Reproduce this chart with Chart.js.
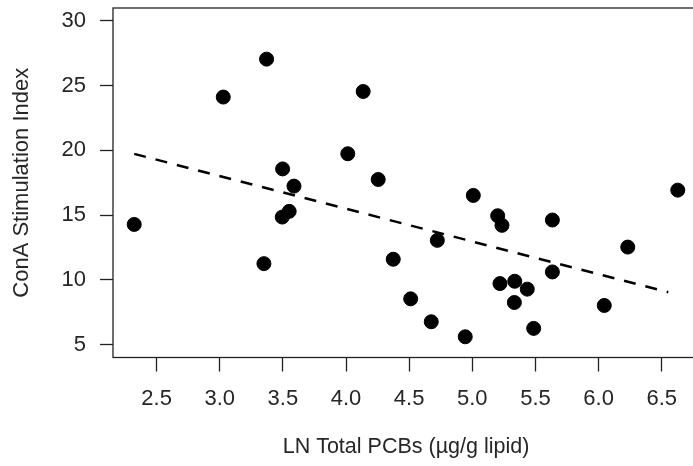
<!DOCTYPE html>
<html>
<head>
<meta charset="utf-8">
<script src="https://cdn.jsdelivr.net/npm/chart.js@4"></script>
<style>
  html, body { margin: 0; padding: 0; background: #fff; overflow: hidden; }
  #wrap { width: 712px; height: 466px; }
</style>
</head>
<body>
<div id="wrap"><canvas id="c" width="712" height="466"></canvas></div>
<script>
// Observations: LN total PCBs (x) vs ConA stimulation index (y)
const pcbLn = [2.323, 3.028, 3.371, 3.498, 3.588, 3.495, 3.550, 4.014, 4.136, 4.255,
               5.008, 5.201, 5.235, 5.634, 6.627, 4.723, 3.350, 4.374, 4.512, 4.675,
               4.944, 5.219, 5.336, 5.435, 5.333, 5.486, 5.634, 6.231, 6.045];
const conA  = [14.28, 24.12, 27.05, 18.57, 17.24, 14.85, 15.29, 19.74, 24.55, 17.75,
               16.52, 14.95, 14.21, 14.62, 16.93, 13.05, 11.25, 11.59, 8.53, 6.76,
               5.60, 9.71, 9.89, 9.28, 8.25, 6.25, 10.61, 12.53, 8.02];
// Fitted regression line endpoints (dashed)
const fitX = [2.323, 6.552];
const fitY = [19.73, 9.04];
// Tick labels
const xTicks = [2.5, 3.0, 3.5, 4.0, 4.5, 5.0, 5.5, 6.0, 6.5];
const yTicks = [5, 10, 15, 20, 25, 30];

const FONT = "'Liberation Sans', Arial, sans-serif";
const TXT = '#262626';
const AX = '#222';

const boxPlugin = {
  id: 'box',
  afterDraw(chart) {
    const a = chart.chartArea, ctx = chart.ctx;
    ctx.save();
    ctx.strokeStyle = AX;
    ctx.lineWidth = 1.3;
    ctx.strokeRect(a.left, a.top, a.right - a.left, a.bottom - a.top);
    ctx.restore();
  }
};

new Chart(document.getElementById('c'), {
  type: 'scatter',
  data: {
    datasets: [
      {
        type: 'line',
        data: fitX.map((x, i) => ({ x, y: fitY[i] })),
        borderColor: '#000',
        borderWidth: 2.5,
        borderDash: [12, 10],
        pointRadius: 0,
        fill: false,
        order: 0
      },
      {
        data: pcbLn.map((x, i) => ({ x, y: conA[i] })),
        backgroundColor: '#000',
        borderColor: '#000',
        borderWidth: 1,
        pointRadius: 7,
        order: 1
      }
    ]
  },
  options: {
    responsive: false,
    animation: false,
    layout: { padding: { left: 0, right: 13, top: 7, bottom: 0 } },
    plugins: { legend: { display: false }, tooltip: { enabled: false } },
    scales: {
      x: {
        type: 'linear',
        min: 2.155,
        max: 6.795,
        afterFit(s) { s.height = 108.5; s.paddingLeft = 0; s.paddingRight = 0; },
        afterBuildTicks(s) { s.ticks = xTicks.map(v => ({ value: v })); },
        border: { display: false },
        grid: { display: true, drawOnChartArea: false, drawTicks: true, tickLength: 14, color: AX, tickWidth: 1.3 },
        ticks: {
          padding: 14,
          color: TXT,
          font: { family: FONT, size: 22 },
          maxRotation: 0,
          callback: v => Number(v).toFixed(1)
        },
        title: {
          display: true,
          text: 'LN Total PCBs (µg/g lipid)',
          color: TXT,
          font: { family: FONT, size: 21.5 },
          padding: { top: 0, bottom: 6 }
        }
      },
      y: {
        type: 'linear',
        min: 4,
        max: 31,
        afterFit(s) { s.width = 113; s.paddingTop = 0; s.paddingBottom = 0; },
        afterBuildTicks(s) { s.ticks = yTicks.map(v => ({ value: v })); },
        border: { display: false },
        grid: { display: true, drawOnChartArea: false, drawTicks: true, tickLength: 13, color: AX, tickWidth: 1.3 },
        ticks: {
          padding: 14,
          color: TXT,
          font: { family: FONT, size: 22 },
          callback: v => String(v)
        },
        title: {
          display: true,
          text: 'ConA Stimulation Index',
          color: TXT,
          font: { family: FONT, size: 22 },
          padding: { top: 9, bottom: 0 }
        }
      }
    }
  },
  plugins: [boxPlugin]
});
</script>
</body>
</html>
